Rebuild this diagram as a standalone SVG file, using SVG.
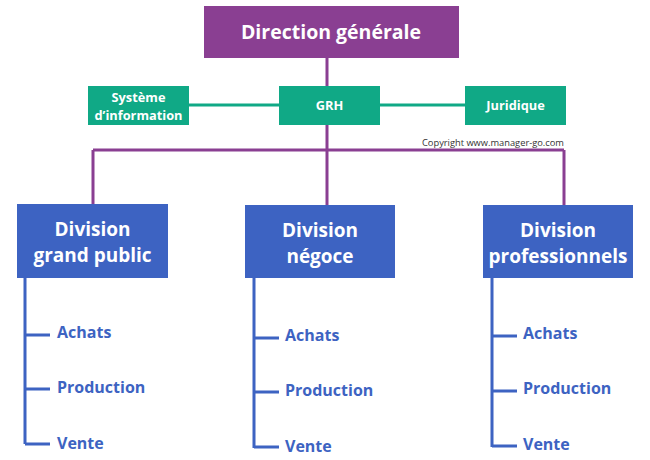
<svg xmlns="http://www.w3.org/2000/svg" width="650" height="460" viewBox="0 0 650 460">
<style>
text{font-family:"Open Sans","Noto Sans","Liberation Sans",sans-serif;font-weight:bold}
.p{fill:#8A3F92}
.g{fill:#10A986}
.b{fill:#3D63C2}
.w{fill:#fff;text-anchor:middle}
.lp{stroke:#8A3F92;stroke-width:3;fill:none}
.lg{stroke:#10A986;stroke-width:3;fill:none}
.lb{stroke:#3D63C2;stroke-width:3;fill:none}
.t{fill:#3D63C2;font-size:16px}
</style>
<rect width="650" height="460" fill="#fff"/>
<g id="connectors">
<path class="lp" d="M327 58V150M93 150H564M93 150V205M327 150V205M564 150V205"/>
<path class="lg" d="M189 105H465"/>
<path class="lb" d="M25 278V444M25 335H50M25 389H50M25 444H50"/>
<path class="lb" d="M254 278V448M254 338H279M254 392H279M254 447H279"/>
<path class="lb" d="M492 278V447M492 336H517M492 391H517M492 446H517"/>
</g>
<g id="direction"><rect class="p" x="204" y="6" width="255" height="52"/><text class="w" x="331" y="39" font-size="19.5">Direction générale</text></g>
<g id="si"><rect class="g" x="88" y="86" width="101" height="39"/><text class="w" x="138.5" y="102" font-size="12.8">Système</text><text class="w" x="138.5" y="119.5" font-size="12.8">d’information</text></g>
<g id="grh"><rect class="g" x="279" y="86" width="101" height="39"/><text class="w" x="329.5" y="110" font-size="12.8">GRH</text></g>
<g id="juridique"><rect class="g" x="465" y="86" width="101" height="39"/><text class="w" x="515.5" y="110" font-size="12.8">Juridique</text></g>
<text x="422" y="146" font-size="9.3" style="font-weight:normal" fill="#333">Copyright www.manager-go.com</text>
<g id="div1"><rect class="b" x="17" y="204" width="151" height="74"/><text class="w" x="92.5" y="236" font-size="19">Division</text><text class="w" x="92.5" y="262" font-size="19">grand public</text></g>
<g id="div2"><rect class="b" x="245" y="205" width="150" height="73"/><text class="w" x="320" y="237" font-size="19">Division</text><text class="w" x="320" y="263" font-size="19">négoce</text></g>
<g id="div3"><rect class="b" x="483" y="205" width="150" height="73"/><text class="w" x="558" y="237" font-size="19">Division</text><text class="w" x="558" y="263" font-size="19">professionnels</text></g>
<g id="d1items"><text class="t" x="57" y="338">Achats</text><text class="t" x="57" y="393">Production</text><text class="t" x="57" y="449">Vente</text></g>
<g id="d2items"><text class="t" x="285" y="341">Achats</text><text class="t" x="285" y="396">Production</text><text class="t" x="285" y="452">Vente</text></g>
<g id="d3items"><text class="t" x="523" y="339">Achats</text><text class="t" x="523" y="394">Production</text><text class="t" x="523" y="450">Vente</text></g>
</svg>
